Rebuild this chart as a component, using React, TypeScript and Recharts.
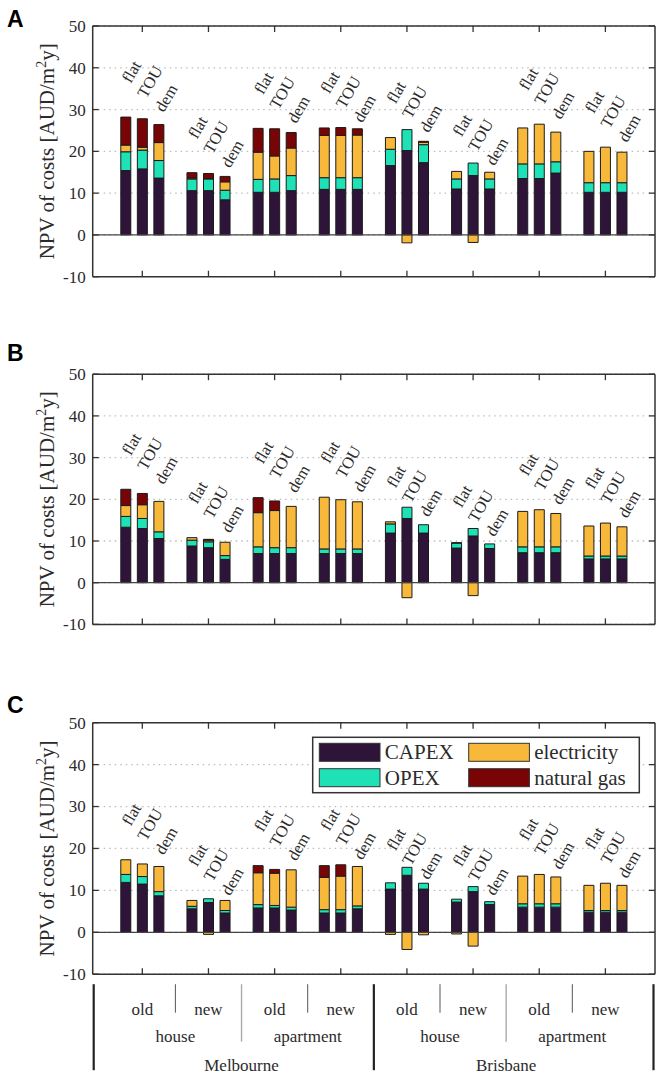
import React from 'react';
import {
  ComposedChart,
  Bar,
  Line,
  XAxis,
  YAxis,
  CartesianGrid,
  ReferenceLine,
} from 'recharts';

const CITIES = ['Melbourne', 'Brisbane'];
const BUILDINGS = ['house', 'apartment'];
const AGES = ['old', 'new'];
const TARIFFS = ['flat', 'TOU', 'dem'];
const Y_TICKS = [-10, 0, 10, 20, 30, 40, 50];

// bar order: Melbourne (old house, new house, old apt, new apt), then Brisbane; 3 tariffs each
const A_CAPEX = [15.4, 15.8, 13.6, 10.6, 10.6, 8.4, 10.2, 10.2, 10.6, 10.9, 10.9, 10.9, 16.6, 20.2, 17.3, 11.0, 14.2, 11.0, 13.5, 13.5, 14.8, 10.2, 10.2, 10.2];
const A_OPEX = [4.5, 4.5, 4.2, 2.8, 2.8, 2.3, 3.1, 3.2, 3.6, 2.8, 2.8, 2.8, 3.9, 5.0, 4.3, 2.4, 3.0, 2.4, 3.5, 3.5, 2.7, 2.3, 2.3, 2.3];
const A_ELEC = [1.6, 0.7, 4.3, 0.2, 0.1, 2.0, 6.5, 5.5, 6.6, 10.1, 10.1, 10.2, 2.8, -1.9, 0.6, 1.8, -1.8, 1.6, 8.6, 9.5, 7.1, 7.5, 8.5, 7.3];
const A_GAS = [6.7, 6.8, 4.3, 1.3, 1.2, 1.3, 5.7, 6.5, 3.7, 1.8, 1.9, 1.5, 0, 0, 0.2, 0, 0, 0, 0, 0, 0, 0, 0, 0];

const B_CAPEX = [13.3, 13.0, 10.6, 8.8, 8.4, 5.6, 7.0, 7.0, 7.0, 7.0, 7.0, 7.0, 11.9, 15.4, 11.9, 8.3, 11.2, 8.2, 7.2, 7.2, 7.2, 5.7, 5.7, 5.7];
const B_OPEX = [2.6, 2.4, 1.6, 1.4, 1.4, 0.9, 1.6, 1.4, 1.4, 1.1, 1.1, 1.1, 2.2, 2.7, 2.0, 1.2, 1.8, 1.1, 1.4, 1.4, 1.4, 0.7, 0.7, 0.7];
const B_ELEC = [2.6, 3.3, 7.3, 0.6, 0.4, 3.2, 8.2, 8.9, 9.9, 12.4, 11.8, 11.3, 0.5, -3.6, 0, 0.1, -3.1, 0, 8.5, 8.9, 8.0, 7.2, 7.9, 7.0];
const B_GAS = [3.9, 2.7, 0, 0, 0.2, 0, 3.6, 2.3, 0, 0, 0, 0, 0, 0, 0, 0, 0, 0, 0, 0, 0, 0, 0, 0];

const C_CAPEX = [11.9, 11.5, 8.7, 5.6, 7.1, 4.6, 5.8, 5.8, 5.3, 4.6, 4.6, 5.6, 10.3, 13.6, 10.3, 7.2, 9.7, 6.6, 6.0, 6.0, 6.0, 4.8, 4.8, 4.8];
const C_OPEX = [1.9, 1.8, 1.0, 0.6, 0.9, 0.6, 0.8, 0.6, 0.7, 0.8, 0.8, 0.7, 1.5, 1.9, 1.4, 0.7, 1.2, 0.7, 0.8, 0.8, 0.8, 0.4, 0.4, 0.4];
const C_ELEC = [3.5, 3.0, 6.0, 1.4, -0.5, 2.4, 7.6, 7.7, 8.9, 7.7, 8.0, 9.4, -0.5, -4.1, -0.6, -0.4, -3.3, 0, 6.6, 7.0, 6.4, 6.0, 6.5, 6.0];
const C_GAS = [0, 0, 0, 0, 0, 0, 1.7, 0.9, 0, 2.8, 2.7, 0, 0, 0, 0, 0, 0, 0, 0, 0, 0, 0, 0, 0];

const SERIES = [
  { key: 'capex', name: 'CAPEX', color: '#2f143a' },
  { key: 'opex', name: 'OPEX', color: '#1ee2b6' },
  { key: 'electricity', name: 'electricity', color: '#f8b93b' },
  { key: 'gas', name: 'natural gas', color: '#790405' },
];

const FONT = "'Liberation Serif', 'DejaVu Serif', serif";
const INK = '#2b2b2b';

// tariff label anchor, relative to the tallest net stack of the group
const LABEL_OFFSETS: Record<string, { dx: number; dy: number }> = {
  flat: { dx: 5, dy: -33 },
  TOU: { dx: 4, dy: -18 },
  dem: { dx: 5, dy: -4 },
};

type Row = {
  key: string;
  tariff?: string;
  age?: string;
  capex?: number;
  opex?: number;
  electricity?: number;
  gas?: number;
  labelAt?: number;
  divider?: 'age' | 'building' | 'city';
  text?: string;
};

function buildRows(capex: number[], opex: number[], elec: number[], gas: number[]): Row[] {
  const rows: Row[] = [];
  CITIES.forEach((city, c) =>
    BUILDINGS.forEach((building, b) =>
      AGES.forEach((age, a) => {
        const g = c * 4 + b * 2 + a;
        if (g > 0) {
          // empty slot between groups carries the divider of the category axis
          if (a === 1) rows.push({ key: `gap${g}`, divider: 'age', text: building });
          else if (b === 1) rows.push({ key: `gap${g}`, divider: 'building', text: city });
          else rows.push({ key: `gap${g}`, divider: 'city' });
        }
        const nets = TARIFFS.map((_, t) => {
          const k = g * 3 + t;
          return capex[k] + opex[k] + elec[k] + gas[k];
        });
        const labelAt = Math.max(...nets);
        TARIFFS.forEach((tariff, t) => {
          const k = g * 3 + t;
          rows.push({
            key: `${g}-${tariff}`,
            tariff,
            age,
            capex: capex[k],
            opex: opex[k],
            electricity: elec[k],
            gas: gas[k],
            labelAt,
          });
        });
      })
    )
  );
  return rows;
}

const ROWS_A = buildRows(A_CAPEX, A_OPEX, A_ELEC, A_GAS);
const ROWS_B = buildRows(B_CAPEX, B_OPEX, B_ELEC, B_GAS);
const ROWS_C = buildRows(C_CAPEX, C_OPEX, C_ELEC, C_GAS);

const PLOT_LEFT = 92.7;
const PLOT_RIGHT = 655;
const X_PAD = 24.8;

function renderTariffLabel(props: any) {
  const { cx, cy, payload, index } = props;
  if (cx == null || cy == null || !payload || !payload.tariff) return <g key={`lbl-${index}`} />;
  const off = LABEL_OFFSETS[payload.tariff];
  return (
    <text
      key={`lbl-${index}`}
      transform={`translate(${cx + off.dx},${cy + off.dy}) rotate(-60)`}
      fontFamily={FONT}
      fontSize={16.5}
      fill={INK}
    >
      {payload.tariff}
    </text>
  );
}

function makeBottomTick(rows: Row[], hierarchy: boolean) {
  const byKey = new Map(rows.map((r) => [r.key, r]));
  return (props: any) => {
    const { x, y, payload, index } = props;
    const row = byKey.get(payload.value);
    if (!row) return <g key={`bt-${index}`} />;
    return (
      <g key={`bt-${index}`}>
        {row.tariff === 'TOU' && (
          <line x1={x} x2={x} y1={y} y2={y - 6} stroke="#333" strokeWidth={1.3} />
        )}
        {hierarchy && row.tariff === 'TOU' && (
          <text x={x} y={y + 41} textAnchor="middle" fontFamily={FONT} fontSize={17} fill={INK}>
            {row.age}
          </text>
        )}
        {hierarchy && row.divider === 'age' && (
          <>
            <line x1={x} x2={x} y1={y + 10} y2={y + 38.5} stroke="#555" strokeWidth={1} />
            <text x={x} y={y + 68} textAnchor="middle" fontFamily={FONT} fontSize={17} fill={INK}>
              {row.text}
            </text>
          </>
        )}
        {hierarchy && row.divider === 'building' && (
          <>
            <line x1={x} x2={x} y1={y + 10} y2={y + 67.5} stroke="#aaa" strokeWidth={1.4} />
            <text x={x} y={y + 97} textAnchor="middle" fontFamily={FONT} fontSize={17} fill={INK}>
              {row.text}
            </text>
          </>
        )}
        {hierarchy && row.divider === 'city' && (
          <line x1={x} x2={x} y1={y + 10} y2={y + 96} stroke="#222" strokeWidth={2.2} />
        )}
      </g>
    );
  };
}

function makeTopTick(rows: Row[]) {
  const byKey = new Map(rows.map((r) => [r.key, r]));
  return (props: any) => {
    const { x, y, payload, index } = props;
    const row = byKey.get(payload.value);
    if (!row || row.tariff !== 'TOU') return <g key={`tt-${index}`} />;
    return <line key={`tt-${index}`} x1={x} x2={x} y1={y} y2={y + 6} stroke="#333" strokeWidth={1.3} />;
  };
}

function makeLeftTick(hierarchy: boolean) {
  return (props: any) => {
    const { x, y, payload, index } = props;
    return (
      <g key={`lt-${index}`}>
        <text x={x} y={y} dy="0.35em" textAnchor="end" fontFamily={FONT} fontSize={17} fill={INK}>
          {payload.value}
        </text>
        <line x1={x + 7} x2={x + 13} y1={y} y2={y} stroke="#333" strokeWidth={1.3} />
        {hierarchy && payload.value === -10 && (
          <line x1={x + 8} x2={x + 8} y1={y + 10} y2={y + 96} stroke="#222" strokeWidth={2.2} />
        )}
      </g>
    );
  };
}

function makeRightTick(hierarchy: boolean) {
  return (props: any) => {
    const { x, y, payload, index } = props;
    return (
      <g key={`rt-${index}`}>
        <line x1={x - 6} x2={x} y1={y} y2={y} stroke="#333" strokeWidth={1.3} />
        {hierarchy && payload.value === -10 && (
          <line x1={x - 1.5} x2={x - 1.5} y1={y + 10} y2={y + 96} stroke="#222" strokeWidth={2.2} />
        )}
      </g>
    );
  };
}

interface PanelProps {
  rows: Row[];
  top: number;
  height: number;
  plotTop: number;
  plotBottom: number;
  hierarchy?: boolean;
}

// x axes take 1px each, the right y axis 1px; margins leave room for it
function Panel({ rows, top, height, plotTop, plotBottom, hierarchy = false }: PanelProps) {
  return (
    <div style={{ position: 'absolute', left: 0, top, width: 663, height }}>
      <ComposedChart
        width={663}
        height={height}
        data={rows}
        stackOffset="sign"
        barCategoryGap="20%"
        margin={{
          top: plotTop - top - 1,
          bottom: top + height - plotBottom - 1,
          left: PLOT_LEFT - 40,
          right: 663 - PLOT_RIGHT - 1,
        }}
      >
        <CartesianGrid
          xAxisId="bottom"
          yAxisId="left"
          vertical={false}
          stroke="#bdbdbd"
          strokeWidth={1.3}
          strokeDasharray="1.5 4"
        />
        <XAxis
          xAxisId="bottom"
          dataKey="key"
          type="category"
          orientation="bottom"
          height={1}
          interval={0}
          padding={{ left: X_PAD, right: X_PAD }}
          tickLine={false}
          tickSize={0}
          tickMargin={0}
          tick={makeBottomTick(rows, hierarchy)}
          axisLine={{ stroke: '#333', strokeWidth: 1.5 }}
        />
        <XAxis
          xAxisId="top"
          dataKey="key"
          type="category"
          orientation="top"
          height={1}
          interval={0}
          padding={{ left: X_PAD, right: X_PAD }}
          tickLine={false}
          tickSize={0}
          tickMargin={0}
          tick={makeTopTick(rows)}
          axisLine={{ stroke: '#333', strokeWidth: 1.5 }}
        />
        <YAxis
          yAxisId="left"
          type="number"
          domain={[-10, 50]}
          ticks={Y_TICKS}
          allowDataOverflow
          width={40}
          tickLine={false}
          tickSize={0}
          tickMargin={7}
          tick={makeLeftTick(hierarchy)}
          axisLine={{ stroke: '#333', strokeWidth: 1.5 }}
        />
        <YAxis
          yAxisId="right"
          orientation="right"
          type="number"
          domain={[-10, 50]}
          ticks={Y_TICKS}
          allowDataOverflow
          width={1}
          tickLine={false}
          tickSize={0}
          tickMargin={0}
          tick={makeRightTick(hierarchy)}
          axisLine={{ stroke: '#333', strokeWidth: 1.5 }}
        />
        <ReferenceLine xAxisId="bottom" yAxisId="left" y={0} stroke="#444" strokeWidth={1.2} />
        {SERIES.map((s) => (
          <Bar
            key={s.key}
            xAxisId="bottom"
            yAxisId="left"
            dataKey={s.key}
            name={s.name}
            stackId="npv"
            fill={s.color}
            stroke="#1b1b1b"
            strokeWidth={1}
            isAnimationActive={false}
          />
        ))}
        <Line
          xAxisId="bottom"
          yAxisId="left"
          dataKey="labelAt"
          stroke="none"
          legendType="none"
          dot={renderTariffLabel}
          activeDot={false}
          isAnimationActive={false}
        />
      </ComposedChart>
    </div>
  );
}

const PANELS = [
  { letter: 'A', rows: ROWS_A, top: 0, height: 300, plotTop: 26, plotBottom: 276.7, letterY: 26.7 },
  { letter: 'B', rows: ROWS_B, top: 348, height: 300, plotTop: 374.2, plotBottom: 624.4, letterY: 360.5 },
  { letter: 'C', rows: ROWS_C, top: 696, height: 380, plotTop: 722.7, plotBottom: 974.2, letterY: 713 },
];

function Overlay() {
  const legendX = 312.7;
  const legendY = 737.3;
  return (
    <svg width={663} height={1076} style={{ position: 'absolute', left: 0, top: 0, pointerEvents: 'none' }}>
      {PANELS.map((p) => {
        const cy = (p.plotTop + p.plotBottom) / 2;
        return (
          <g key={p.letter}>
            <text x={7} y={p.letterY} fontFamily="'Liberation Sans', Arial, sans-serif" fontWeight="bold" fontSize={23} fill="#000">
              {p.letter}
            </text>
            <text
              transform={`translate(53.5,${cy}) rotate(-90)`}
              textAnchor="middle"
              fontFamily={FONT}
              fontSize={21}
              fill={INK}
            >
              NPV of costs [AUD/m
              <tspan dy={-8} fontSize={14}>2</tspan>
              <tspan dy={8}>y]</tspan>
            </text>
          </g>
        );
      })}
      <rect x={legendX} y={legendY} width={326.6} height={55.4} fill="#fff" stroke="#333" strokeWidth={1.5} />
      {SERIES.map((s, i) => {
        const col = Math.floor(i / 2);
        const row = i % 2;
        const sx = legendX + 6.6 + col * 149.4;
        const sy = legendY + 6 + row * 25.4;
        return (
          <g key={s.key}>
            <rect x={sx} y={sy} width={60.7} height={18} fill={s.color} stroke="#333" strokeWidth={1} />
            <text x={sx + 65.5} y={sy + 16} fontFamily={FONT} fontSize={21} fill={INK}>
              {s.name}
            </text>
          </g>
        );
      })}
    </svg>
  );
}

export default function App() {
  return (
    <div style={{ position: 'absolute', left: 0, top: 0, width: 663, height: 1076, background: '#fff' }}>
      {PANELS.map((p) => (
        <Panel
          key={p.letter}
          rows={p.rows}
          top={p.top}
          height={p.height}
          plotTop={p.plotTop}
          plotBottom={p.plotBottom}
          hierarchy={p.letter === 'C'}
        />
      ))}
      <Overlay />
    </div>
  );
}
